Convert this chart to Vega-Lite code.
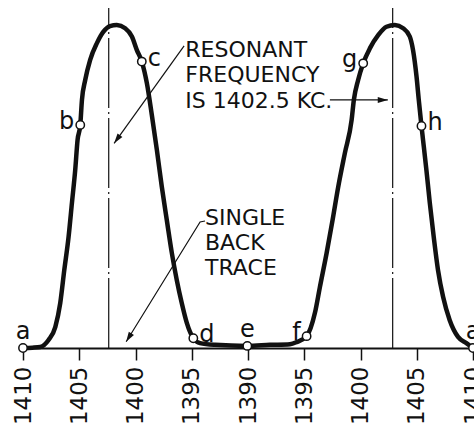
{
  "$schema": "https://vega.github.io/schema/vega-lite/v6.json",
  "width": 450,
  "height": 348,
  "autosize": {"type": "none"},
  "padding": {"left": 23, "top": 0, "right": 1, "bottom": 77},
  "background": "white",
  "config": {"view": {"stroke": null}, "font": "DejaVu Sans"},
  "datasets": {
    "curve": [
      {"s": 0, "y": 0}, {"s": 0.83, "y": 0.1}, {"s": 1.54, "y": 0.3}, {"s": 2.27, "y": 2.3},
      {"s": 2.87, "y": 6.0}, {"s": 3.31, "y": 12.9}, {"s": 3.67, "y": 22.4}, {"s": 4.05, "y": 31.9},
      {"s": 4.35, "y": 41.7}, {"s": 4.64, "y": 51.1}, {"s": 4.85, "y": 59.8}, {"s": 5.09, "y": 64.1},
      {"s": 5.24, "y": 71.3}, {"s": 5.53, "y": 77.0}, {"s": 5.97, "y": 82.8}, {"s": 6.57, "y": 87.6},
      {"s": 7.15, "y": 90.9}, {"s": 7.74, "y": 92.5}, {"s": 8.34, "y": 92.8}, {"s": 9.08, "y": 91.9},
      {"s": 9.68, "y": 89.5}, {"s": 10.12, "y": 85.6}, {"s": 10.56, "y": 82.3}, {"s": 11.01, "y": 76.1},
      {"s": 11.45, "y": 67.0}, {"s": 11.90, "y": 56.9}, {"s": 12.34, "y": 46.3}, {"s": 12.78, "y": 36.8},
      {"s": 13.23, "y": 27.3}, {"s": 13.67, "y": 19.5}, {"s": 14.11, "y": 12.9}, {"s": 14.56, "y": 7.2},
      {"s": 15.14, "y": 2.8}, {"s": 15.74, "y": 1.4}, {"s": 17.07, "y": 0.9}, {"s": 19.94, "y": 0.6},
      {"s": 21.95, "y": 0.9}, {"s": 23.73, "y": 1.1}, {"s": 24.32, "y": 1.7}, {"s": 25.21, "y": 3.4},
      {"s": 25.95, "y": 10.1}, {"s": 26.39, "y": 17.5}, {"s": 26.99, "y": 27.3}, {"s": 27.52, "y": 36.8},
      {"s": 28.02, "y": 46.3}, {"s": 28.61, "y": 56.0}, {"s": 29.21, "y": 65.5}, {"s": 29.41, "y": 71.3},
      {"s": 29.79, "y": 77.0}, {"s": 30.24, "y": 81.8}, {"s": 30.83, "y": 86.1}, {"s": 31.57, "y": 89.9},
      {"s": 32.31, "y": 92.3}, {"s": 33.05, "y": 92.8}, {"s": 33.79, "y": 91.9}, {"s": 34.38, "y": 89.5},
      {"s": 34.67, "y": 85.6}, {"s": 34.98, "y": 78.0}, {"s": 35.18, "y": 71.3}, {"s": 35.42, "y": 63.8},
      {"s": 35.56, "y": 59.8}, {"s": 35.86, "y": 51.1}, {"s": 36.16, "y": 41.7}, {"s": 36.51, "y": 31.9},
      {"s": 36.89, "y": 22.4}, {"s": 37.34, "y": 14.7}, {"s": 37.93, "y": 8.0}, {"s": 38.67, "y": 3.2},
      {"s": 39.41, "y": 1.4}, {"s": 40, "y": 0}
    ],
    "points": [
      {"label": "a", "s": 0, "y": 0},
      {"label": "b", "s": 5.09, "y": 64.1},
      {"label": "c", "s": 10.56, "y": 82.3},
      {"label": "d", "s": 15.14, "y": 2.8},
      {"label": "e", "s": 19.94, "y": 0.6},
      {"label": "f", "s": 25.21, "y": 3.4},
      {"label": "g", "s": 30.24, "y": 81.8},
      {"label": "h", "s": 35.42, "y": 63.8},
      {"label": "a", "s": 40, "y": 0}
    ],
    "rules": [
      {"s": 7.62, "y": 0, "y2": 97.7},
      {"s": 32.86, "y": 0, "y2": 97.7}
    ],
    "notes": [
      {"t": "RESONANT", "s": 14.43, "y": 83.6},
      {"t": "FREQUENCY", "s": 14.43, "y": 76.4},
      {"t": "IS 1402.5 KC.", "s": 14.43, "y": 69.0},
      {"t": "SINGLE", "s": 16.18, "y": 35.3},
      {"t": "BACK", "s": 16.18, "y": 28.2},
      {"t": "TRACE", "s": 16.18, "y": 21.0}
    ],
    "arrows": [
      {"id": "resonant1", "s": 14.32, "y": 86.8},
      {"id": "resonant1", "s": 8.10, "y": 58.8},
      {"id": "resonant2", "s": 27.28, "y": 71.3},
      {"id": "resonant2", "s": 32.43, "y": 71.3},
      {"id": "back", "s": 16.18, "y": 36.5},
      {"id": "back", "s": 15.74, "y": 36.2},
      {"id": "back", "s": 9.17, "y": 1.8}
    ],
    "heads": [
      {"id": "resonant1", "s": 8.36, "y": 60.0},
      {"id": "resonant2", "s": 31.98, "y": 71.3},
      {"id": "back", "s": 9.40, "y": 3.0}
    ]
  },
  "encoding": {
    "x": {
      "field": "s",
      "type": "quantitative",
      "scale": {"domain": [0, 40], "nice": false, "zero": false},
      "axis": {
        "values": [0, 5, 10, 15, 20, 25, 30, 35, 40],
        "labelExpr": "datum.value <= 20 ? '' + (1410 - datum.value) : '' + (1370 + datum.value)",
        "labelAngle": -90,
        "labelFontSize": 23,
        "labelFont": "DejaVu Sans",
        "labelColor": "#111",
        "labelPadding": 6,
        "labelOverlap": false,
        "labelBound": false,
        "labelFlush": false,
        "tickSize": 12,
        "tickWidth": 1.5,
        "tickColor": "#111",
        "domainColor": "#111",
        "domainWidth": 2,
        "grid": false,
        "title": null
      }
    },
    "y": {
      "field": "y",
      "type": "quantitative",
      "scale": {"domain": [0, 100], "nice": false, "zero": false},
      "axis": null
    }
  },
  "layer": [
    {
      "data": {"name": "rules"},
      "mark": {"type": "rule", "color": "#111", "strokeWidth": 1.2, "strokeDash": [70, 4, 2, 4]},
      "encoding": {"y2": {"field": "y2"}}
    },
    {
      "data": {"name": "arrows"},
      "mark": {"type": "line", "color": "#111", "strokeWidth": 1.2},
      "encoding": {"detail": {"field": "id"}}
    },
    {
      "data": {"name": "curve"},
      "mark": {"type": "line", "color": "#111", "strokeWidth": 4.5, "interpolate": "monotone", "strokeCap": "round", "strokeJoin": "round"},
      "encoding": {}
    },
    {
      "data": {"name": "points"},
      "mark": {"type": "point", "shape": "circle", "filled": false, "fill": "white", "fillOpacity": 1, "stroke": "#111", "strokeWidth": 1.5, "size": 70, "opacity": 1},
      "encoding": {}
    },
    {
      "data": {"name": "points"},
      "transform": [{"filter": "indexof(['a','e'], datum.label) >= 0"}],
      "mark": {"type": "text", "fontSize": 24, "color": "#111", "align": "center", "baseline": "alphabetic", "dy": -9},
      "encoding": {"text": {"field": "label"}}
    },
    {
      "data": {"name": "points"},
      "transform": [{"filter": "indexof(['b','f','g'], datum.label) >= 0"}],
      "mark": {"type": "text", "fontSize": 24, "color": "#111", "align": "right", "baseline": "alphabetic", "dx": -6, "dy": 4},
      "encoding": {"text": {"field": "label"}}
    },
    {
      "data": {"name": "points"},
      "transform": [{"filter": "indexof(['c','d','h'], datum.label) >= 0"}],
      "mark": {"type": "text", "fontSize": 24, "color": "#111", "align": "left", "baseline": "alphabetic", "dx": 6, "dy": 4},
      "encoding": {"text": {"field": "label"}}
    },
    {
      "data": {"name": "notes"},
      "mark": {"type": "text", "fontSize": 22, "color": "#111", "align": "left", "baseline": "alphabetic"},
      "encoding": {"text": {"field": "t"}}
    },
    {
      "data": {"name": "heads"},
      "transform": [{"filter": "datum.id == 'resonant1'"}],
      "mark": {"type": "point", "shape": "M0,-1L0.6,1L-0.6,1Z", "filled": true, "color": "#111", "size": 100, "opacity": 1, "angle": 215.7},
      "encoding": {}
    },
    {
      "data": {"name": "heads"},
      "transform": [{"filter": "datum.id == 'resonant2'"}],
      "mark": {"type": "point", "shape": "M0,-1L0.6,1L-0.6,1Z", "filled": true, "color": "#111", "size": 100, "opacity": 1, "angle": 90},
      "encoding": {}
    },
    {
      "data": {"name": "heads"},
      "transform": [{"filter": "datum.id == 'back'"}],
      "mark": {"type": "point", "shape": "M0,-1L0.6,1L-0.6,1Z", "filled": true, "color": "#111", "size": 100, "opacity": 1, "angle": 211.7},
      "encoding": {}
    }
  ]
}
